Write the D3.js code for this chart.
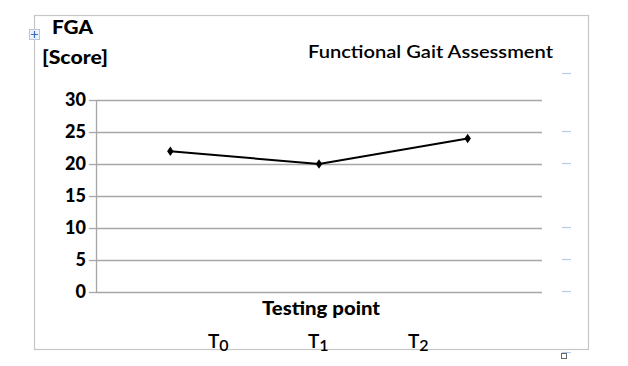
<!DOCTYPE html>
<html><head><meta charset="utf-8">
<script src="https://cdn.jsdelivr.net/npm/d3@7"></script>
<style>html,body{margin:0;padding:0;background:#fff;}svg{display:block;font-family:Lato,"Open Sans",sans-serif;}</style>
</head><body>
<svg id="c" width="628" height="366"></svg>
<script>
const categories = ["T0","T1","T2"];
const labelMain = ["T","T","T"];
const labelSub = ["0","1","2"];
const values = [22,20,24];
const yTicks = [0,5,10,15,20,25,30];
const title = "Functional  Gait  Assessment";
const yTitle1 = "FGA";
const yTitle2 = "[Score]";
const xTitle = "Testing point";

const svg = d3.select("#c");
// outer frame
svg.append("rect").attr("x",34.5).attr("y",15.5).attr("width",554).attr("height",334)
  .attr("fill","none").attr("stroke","#c6c6c6").attr("stroke-width",1.2);

const x = d3.scaleBand().domain(categories).range([96,542]).padding(0);
const y = d3.scaleLinear().domain([0,30]).range([292,100]);

// gridlines
svg.append("g").selectAll("line").data(yTicks).join("line")
  .attr("x1",96).attr("x2",542).attr("y1",d=>Math.round(y(d))+0.5).attr("y2",d=>Math.round(y(d))+0.5)
  .attr("stroke","#a6a6a6").attr("stroke-width",1.3);

// y axis
const ya = svg.append("g").attr("transform","translate(96,0)")
  .call(d3.axisLeft(y).tickValues(yTicks).tickSize(7).tickPadding(3).tickFormat(d3.format("d")));
ya.select(".domain").attr("stroke","#a6a6a6").attr("stroke-width",1.3).attr("d","M0.5,100V292");
ya.selectAll(".tick line").attr("stroke","#a6a6a6").attr("stroke-width",1.3);
ya.selectAll(".tick text").attr("font-family","Lato,sans-serif").attr("font-size",18).attr("font-weight","900").attr("fill","#000");

// line
const line = d3.line().x((d,i)=>x(categories[i])+x.bandwidth()/2).y(d=>y(d));
svg.append("path").datum(values).attr("d",line).attr("fill","none").attr("stroke","#000").attr("stroke-width",2);
svg.append("g").selectAll("path").data(values).join("path")
  .attr("d",d3.symbol(d3.symbolDiamond,36))
  .attr("transform",(d,i)=>`translate(${x(categories[i])+x.bandwidth()/2},${y(d)}) scale(1,0.85)`)
  .attr("fill","#000");

// titles
svg.append("text").attr("x",52).attr("y",34).attr("font-size",18.5).attr("font-weight","900").attr("textLength",41).attr("lengthAdjust","spacingAndGlyphs").text(yTitle1);
svg.append("text").attr("x",42).attr("y",64).attr("font-size",18.5).attr("font-weight","900").attr("textLength",66).attr("lengthAdjust","spacingAndGlyphs").text(yTitle2);
svg.append("text").attr("x",308).attr("y",58).attr("font-size",17.5).attr("font-weight","600").attr("textLength",245).attr("lengthAdjust","spacingAndGlyphs").text(title);
svg.append("text").attr("x",262).attr("y",315).attr("font-size",19).attr("font-weight","900").attr("textLength",118).attr("lengthAdjust","spacingAndGlyphs").text(xTitle);

// x category labels
const xl = d3.scalePoint().domain(categories).range([208,408]);
const t = svg.append("g").selectAll("text").data(categories).join("text")
  .attr("x",d=>xl(d)).attr("y",348).attr("font-size",19).attr("font-weight","600");
t.append("tspan").text((d,i)=>labelMain[i]);
t.append("tspan").attr("dy",3).attr("font-size",16).text((d,i)=>labelSub[i]);

// decorations: move icon, right dashes, resize square
const mv = svg.append("g").attr("transform","translate(29.5,29.5)");
mv.append("rect").attr("width",10).attr("height",10).attr("fill","#eef3fb").attr("stroke","#b9c6da");
mv.append("path").attr("d","M5,1.5V8.5M1.5,5H8.5").attr("stroke","#3a6fc4").attr("stroke-width",1.2);
const dashY = [73,131,163,227,259,291,352];
svg.append("g").selectAll("line").data(dashY).join("line")
  .attr("x1",562).attr("x2",571).attr("y1",d=>d+0.5).attr("y2",d=>d+0.5)
  .attr("stroke","#b3cde8").attr("stroke-width",1.2);
svg.append("rect").attr("x",561.5).attr("y",353.5).attr("width",5).attr("height",5).attr("fill","#fff").attr("stroke","#666");
</script>
</body></html>
